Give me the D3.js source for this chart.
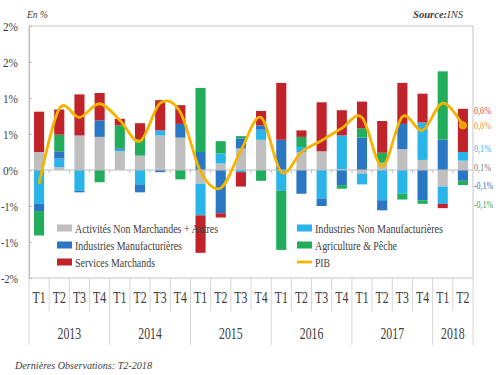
<!DOCTYPE html>
<html>
<head>
<meta charset="utf-8">
<script src="https://cdn.jsdelivr.net/npm/d3@7"></script>
<style>
  body { margin: 0; background: #fff; }
  svg { display: block; }
  text { font-family: "Liberation Serif", "DejaVu Serif", serif; fill: #404040; }
  .axis path, .axis line { stroke: #bdbdbd; }
</style>
</head>
<body>
<div class="graph"></div>
<script>
"use strict";

// quarters 2013 T1 .. 2018 T2
var quarters = ["T1","T2","T3","T4","T1","T2","T3","T4","T1","T2","T3","T4",
                "T1","T2","T3","T4","T1","T2","T3","T4","T1","T2"];
var years = ["2013","2014","2015","2016","2017","2018"];
var yearSpan = [4, 4, 4, 4, 4, 2];

// contributions, in points of %
var nonMarchandes = [0.25, 0.04, 0.48, 0.46, 0.26, 0.20, 0.48, 0.45, -0.19, 0.09, 0.30, 0.42,
                     0.00, 0.25, 0.26, 0.01, -0.05, 0.10, 0.29, 0.14, -0.23, 0.13];
var indNonManuf   = [-0.47, 0.12, -0.29, 0.00, 0.02, -0.20, 0.07, 0.00, -0.44, 0.14, -0.03, 0.14,
                     -0.29, 0.07, -0.40, 0.47, -0.15, -0.42, -0.33, 0.52, -0.24, 0.12];
var indManuf      = [-0.10, 0.10, -0.02, 0.23, 0.02, -0.11, -0.03, 0.19, 0.25, -0.60, 0.14, 0.06,
                     0.42, -0.33, -0.10, -0.21, 0.45, -0.14, 0.35, -0.42, 0.42, -0.15];
var agriculture   = [-0.34, 0.23, 0.00, -0.17, 0.32, 0.23, 0.00, -0.13, 0.89, 0.17, 0.03, -0.15,
                     -0.82, 0.14, 0.00, -0.05, 0.13, 0.14, -0.08, -0.05, 0.95, -0.06];
var services      = [0.56, 0.35, 0.57, 0.38, 0.09, 0.22, 0.42, 0.26, -0.52, -0.06, -0.20, 0.20,
                     0.79, 0.09, 0.68, 0.35, 0.37, 0.44, 0.57, 0.40, -0.06, 0.60];
var pib           = [-0.19, 0.85, 0.73, 0.92, 0.69, 0.40, 0.93, 0.80, -0.02, -0.25, 0.27, 0.73,
                     -0.03, 0.25, 0.41, 0.58, 0.73, 0.05, 0.74, 0.55, 0.93, 0.62];

var yTicks = [-1.5, -1, -0.5, 0, 0.5, 1, 1.5, 2];
var yTickLabels = ["-2%", "-1%", "-1%", "0%", "1%", "1%", "2%", "2%"];

// labels of the last quarter, right of the chart
var lastLabels = ["0,6%", "0,6%", "0,1%", "0,1%", "-0,1%", "-0,1%"];

var series = [
    {key: "nm",  name: "Activités Non Marchandes + Autres", values: nonMarchandes, color: "#bfbfbf"},
    {key: "inm", name: "Industries Non Manufacturières",    values: indNonManuf,   color: "#29b4ea"},
    {key: "im",  name: "Industries Manufacturières",        values: indManuf,      color: "#2a77c3"},
    {key: "ag",  name: "Agriculture & Pêche",               values: agriculture,   color: "#22ad5c"},
    {key: "sm",  name: "Services Marchands",                values: services,      color: "#c1232b"}
];
var pibColor = "#f6b400";

var width = 500, height = 375;
var plotLeft = 29, plotRight = 473, plotTop = 26, plotBottom = 278;

var rows = quarters.map(function(q, i) {
    var r = {i: i};
    series.forEach(function(s) { r[s.key] = s.values[i]; });
    return r;
});

var x = d3.scaleBand()
    .domain(d3.range(quarters.length))
    .range([plotLeft, plotRight])
    .paddingInner(0.5)
    .paddingOuter(0.25);

var y = d3.scaleLinear()
    .domain([-1.5, 2])
    .range([plotBottom, plotTop]);

var svg = d3.select('.graph').append('svg')
    .attr('width', width)
    .attr('height', height);

// frame
svg.append('rect')
    .attr('x', plotLeft).attr('y', plotTop)
    .attr('width', plotRight - plotLeft).attr('height', plotBottom - plotTop)
    .attr('fill', 'none')
    .attr('stroke', '#c4c4c4');

// bars
var stack = d3.stack()
    .keys(series.map(function(s) { return s.key; }))
    .offset(d3.stackOffsetDiverging);

var layers = svg.append('g').selectAll('g')
    .data(stack(rows))
    .enter().append('g')
    .attr('fill', function(d, i) { return series[i].color; });

layers.selectAll('rect')
    .data(function(d) { return d; })
    .enter().append('rect')
    .attr('x', function(d) { return x(d.data.i); })
    .attr('width', x.bandwidth())
    .attr('y', function(d) { return y(Math.max(d[0], d[1])); })
    .attr('height', function(d) { return Math.abs(y(d[0]) - y(d[1])); });

// zero line with small ticks between quarters
var zero = svg.append('g').attr('class', 'axis');
zero.append('line')
    .attr('x1', plotLeft).attr('x2', plotRight)
    .attr('y1', y(0)).attr('y2', y(0));
zero.selectAll('.tk')
    .data(d3.range(1, quarters.length))
    .enter().append('line')
    .attr('class', 'tk')
    .attr('x1', function(i) { return x(i) - x.step() * 0.25; })
    .attr('x2', function(i) { return x(i) - x.step() * 0.25; })
    .attr('y1', y(0)).attr('y2', y(0) + 3);

// y axis
var yAxis = d3.axisLeft(y)
    .tickValues(yTicks)
    .tickFormat(function(d, i) { return yTickLabels[i]; })
    .tickSizeInner(-3)
    .tickSizeOuter(0)
    .tickPadding(11);

svg.append('g')
    .attr('class', 'axis')
    .attr('transform', 'translate(' + plotLeft + ',0)')
    .call(yAxis)
    .call(function(g) {
        g.selectAll('text')
            .attr('font-size', 13)
            .attr('font-family', '"Liberation Serif", serif')
            .attr('fill', '#404040')
            .attr('textLength', function(d) { return d < 0 ? 17 : 15; })
            .attr('lengthAdjust', 'spacingAndGlyphs');
    });

// PIB line
var line = d3.line()
    .curve(d3.curveCardinal.tension(0))
    .x(function(d, i) { return x(i) + x.bandwidth() / 2; })
    .y(function(d) { return y(d); });

svg.append('path')
    .datum(pib)
    .attr('d', line)
    .attr('fill', 'none')
    .attr('stroke', pibColor)
    .attr('stroke-width', 2.8);

var last = pib.length - 1;
svg.append('circle')
    .attr('cx', x(last) + x.bandwidth() / 2)
    .attr('cy', y(pib[last]))
    .attr('r', 3.6)
    .attr('fill', '#e8a000')
    .attr('stroke', pibColor)
    .attr('stroke-width', 1);

// labels for last quarter
var labelColors = ["#e0464e", "#e89048", "#33b5e8", "#7a7a7a", "#2e6fbf", "#27a65a"];
var labelY = [110, 125, 148, 167, 185, 204];
svg.append('g').selectAll('text')
    .data(lastLabels)
    .enter().append('text')
    .attr('x', 474)
    .attr('y', function(d, i) { return labelY[i]; })
    .attr('dy', '0.35em')
    .attr('font-size', 11)
    .attr('textLength', function(d) { return d.length > 4 ? 19 : 17; })
    .attr('lengthAdjust', 'spacingAndGlyphs')
    .style('fill', function(d, i) { return labelColors[i]; })
    .text(function(d) { return d; });

// category axis below the frame
var cat = svg.append('g').attr('class', 'axis');
cat.selectAll('.qsep')
    .data(d3.range(quarters.length + 1))
    .enter().append('line')
    .attr('x1', function(i) { return plotLeft + i * x.step(); })
    .attr('x2', function(i) { return plotLeft + i * x.step(); })
    .attr('y1', plotBottom)
    .attr('y2', 311)
    .style('stroke', '#d6d6d6');

var yearBounds = [0];
yearSpan.forEach(function(n, i) { yearBounds.push(yearBounds[i] + n); });

cat.selectAll('.ysep')
    .data(yearBounds)
    .enter().append('line')
    .attr('x1', function(i) { return plotLeft + i * x.step(); })
    .attr('x2', function(i) { return plotLeft + i * x.step(); })
    .attr('y1', 311)
    .attr('y2', 345)
    .style('stroke', '#d6d6d6');

cat.selectAll('.q')
    .data(quarters)
    .enter().append('text')
    .attr('transform', function(d, i) {
        return 'translate(' + (x(i) + x.bandwidth() / 2) + ',297) scale(0.74,1)';
    })
    .attr('text-anchor', 'middle')
    .attr('dy', '0.35em')
    .attr('font-size', 16)
    .text(function(d) { return d; });

cat.selectAll('.yr')
    .data(years)
    .enter().append('text')
    .attr('transform', function(d, i) {
        var cx = plotLeft + (yearBounds[i] + yearSpan[i] / 2) * x.step();
        return 'translate(' + cx + ',333) scale(0.74,1)';
    })
    .attr('text-anchor', 'middle')
    .attr('dy', '0.35em')
    .attr('font-size', 16)
    .text(function(d) { return d; });

// legend
var legendItems = [
    {s: series[0], x: 57, y: 228, w: 143},
    {s: series[2], x: 57, y: 245, w: 107},
    {s: series[4], x: 57, y: 262, w: 80},
    {s: series[1], x: 297, y: 228, w: 128},
    {s: series[3], x: 297, y: 245, w: 82}
];
var legend = svg.append('g');
legendItems.forEach(function(it) {
    legend.append('rect')
        .attr('x', it.x).attr('y', it.y - 3.5)
        .attr('width', 15).attr('height', 7)
        .attr('fill', it.s.color);
    legend.append('text')
        .attr('x', it.x + 18).attr('y', it.y)
        .attr('dy', '0.35em')
        .attr('font-size', 13)
        .attr('textLength', it.w)
        .attr('lengthAdjust', 'spacingAndGlyphs')
        .text(it.s.name);
});
legend.append('line')
    .attr('x1', 297).attr('x2', 312)
    .attr('y1', 262).attr('y2', 262)
    .attr('stroke', pibColor)
    .attr('stroke-width', 2.8);
legend.append('text')
    .attr('x', 315).attr('y', 262)
    .attr('dy', '0.35em')
    .attr('font-size', 13)
    .attr('textLength', 15)
    .attr('lengthAdjust', 'spacingAndGlyphs')
    .text('PIB');

// titles and notes
svg.append('text')
    .attr('x', 27).attr('y', 14)
    .attr('dy', '0.35em')
    .attr('font-size', 11)
    .attr('font-style', 'italic')
    .attr('textLength', 21)
    .attr('lengthAdjust', 'spacingAndGlyphs')
    .text('En %');

var src = svg.append('text')
    .attr('x', 413).attr('y', 14)
    .attr('dy', '0.35em')
    .attr('font-size', 11)
    .attr('font-style', 'italic')
    .attr('textLength', 50)
    .attr('lengthAdjust', 'spacingAndGlyphs');
src.append('tspan').attr('font-weight', 'bold').text('Source:');
src.append('tspan').text('INS');

svg.append('text')
    .attr('x', 15).attr('y', 365)
    .attr('dy', '0.35em')
    .attr('font-size', 11)
    .attr('font-style', 'italic')
    .attr('textLength', 137)
    .attr('lengthAdjust', 'spacingAndGlyphs')
    .text('Dernières Observations: T2-2018');
</script>
</body>
</html>
